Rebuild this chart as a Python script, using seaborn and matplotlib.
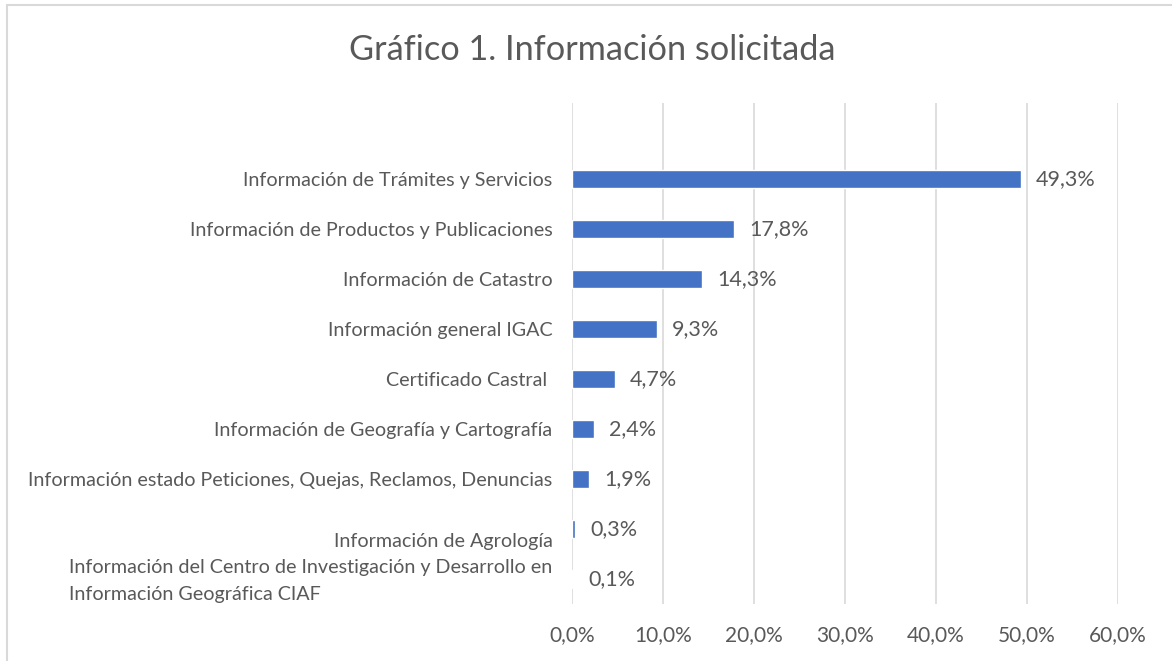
import matplotlib
matplotlib.use("Agg")
import matplotlib.pyplot as plt
import matplotlib.transforms as mtransforms
from matplotlib.patches import Rectangle
import pandas as pd
import seaborn as sns

categories = [
    "Información de Trámites y Servicios",
    "Información de Productos y Publicaciones",
    "Información de Catastro",
    "Información general IGAC",
    "Certificado Castral ",
    "Información de Geografía y Cartografía",
    "Información estado Peticiones, Quejas, Reclamos, Denuncias",
    "Información de Agrología",
    "Información del Centro de Investigación y Desarrollo en\nInformación Geográfica CIAF",
]
values = [49.3, 17.8, 14.3, 9.3, 4.7, 2.4, 1.9, 0.3, 0.1]
xticks = [0, 10, 20, 30, 40, 50, 60]

df = pd.DataFrame({"categoria": categories, "porcentaje": values})

sns.set_theme(style="white")
plt.rcParams["font.family"] = ["Lato", "DejaVu Sans"]
text_color = "#595959"

fig = plt.figure(figsize=(11.72, 6.61), dpi=100)
ax = fig.add_axes([0.488, 0.086, 0.466, 0.758])

sns.barplot(data=df, x="porcentaje", y="categoria", color="#4472C4",
            saturation=1, width=0.36, ax=ax)

ax.set_xlim(0, 60)
ax.set_ylim(8.5, -1.52)
ax.set_xticks(xticks)
ax.set_xticklabels([f"{t:.1f}%".replace(".", ",") for t in xticks],
                   fontsize=15, color=text_color)
ax.tick_params(axis="x", length=0, pad=15)
ax.tick_params(axis="y", length=0, pad=14)
ax.grid(axis="x", color="#D9D9D9", linewidth=1.2)
ax.set_axisbelow(True)
for s in ax.spines.values():
    s.set_visible(False)
ax.set_xlabel("")
ax.set_ylabel("")

for lab in ax.get_yticklabels():
    lab.set_fontsize(14.2)
    lab.set_color(text_color)
    lab.set_multialignment("left")
    lab.set_linespacing(1.75)
    if lab.get_text() == "Información de Agrología":
        lab.set_transform(lab.get_transform() +
                          mtransforms.ScaledTranslation(0, -0.11, fig.dpi_scale_trans))
    elif lab.get_text().startswith("Información del Centro"):
        lab.set_transform(lab.get_transform() +
                          mtransforms.ScaledTranslation(0, 0.05, fig.dpi_scale_trans))

for i, v in enumerate(values):
    ax.text(v + 1.7, i, f"{v:.1f}%".replace(".", ","), va="center", ha="left",
            fontsize=15.5, color=text_color)

fig.text(0.505, 0.924, "Gráfico 1. Información solicitada", ha="center", va="center",
         fontsize=24.7, color=text_color)

fig.patches.append(Rectangle((7 / 1172, -0.1), 1.2, 1.1 - 5 / 661,
                             transform=fig.transFigure, fill=False,
                             edgecolor="#D9D9D9", linewidth=1.5))

fig.savefig("out.png", dpi=100)
